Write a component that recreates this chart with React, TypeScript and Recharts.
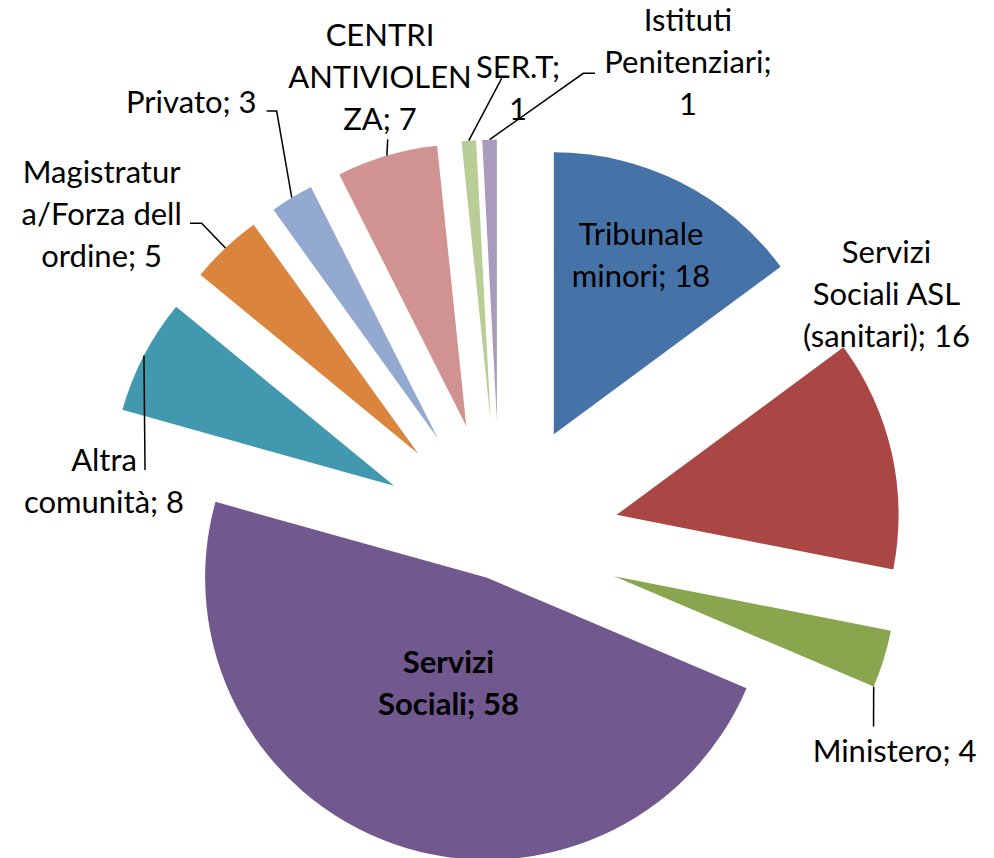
import React from 'react';
import { PieChart, Pie, Sector } from 'recharts';

// ---- data ----
const CATEGORIES = [
  'Tribunale minori',
  'Servizi Sociali ASL (sanitari)',
  'Ministero',
  'Servizi Sociali',
  'Altra comunità',
  'Magistratura/Forza dell ordine',
  'Privato',
  'CENTRI ANTIVIOLENZA',
  'SER.T',
  'Istituti Penitenziari',
];
const VALUES = [18, 16, 4, 58, 8, 5, 3, 7, 1, 1];

// ---- styles / layout ----
const COLORS = ['#4572A7', '#AA4643', '#89A54E', '#71588F', '#4198AF', '#DB843D', '#93A9CF', '#D19392', '#B9CD96', '#A99BBD'];

type Leader = { t: number; pts: number[][] } | null;
type SliceStyle = { explode: number; lx: number; ly: number; breaks: number[]; bold?: boolean; leader: Leader };

const SLICE_STYLE: SliceStyle[] = [
  { explode: 119.5, lx: -39.8, ly: 72.5, breaks: [10], leader: null },
  { explode: 119.5, lx: -5.3, ly: -158.7, breaks: [8, 20], leader: null },
  { explode: 119.5, lx: 10.8, ly: 91.5, breaks: [], leader: { t: 1, pts: [[-21, -24]] } },
  { explode: 39, lx: 54.8, ly: -161.1, breaks: [8], bold: true, leader: null },
  { explode: 119.5, lx: -39.9, ly: 125.9, breaks: [6], leader: { t: 0.5, pts: [[41, -11.4]] } },
  { explode: 119.5, lx: -123.8, ly: -34.5, breaks: [11, 24], leader: { t: 0.5, pts: [[100, 9.8], [88.3, 9.8]] } },
  { explode: 119.5, lx: -100.5, ly: -95.4, breaks: [], leader: { t: 0.5, pts: [[85.4, 8.7], [75.4, 8.7]] } },
  { explode: 119.5, lx: -6.9, ly: -78.7, breaks: [7, 17], leader: { t: 0.5, pts: [[7.7, 62.3]] } },
  { explode: 119.5, lx: 49.2, ly: -52.9, breaks: [7], leader: { t: 0.5, pts: [[-16.3, -9.5]] } },
  { explode: 119.5, lx: 198.4, ly: -77.3, breaks: [9, 23], leader: { t: 0.5, pts: [[-104.7, 11], [-93, 11]] } },
];

const FONT = 'Lato, "Open Sans", sans-serif';
const FONT_SIZE = 31;
const LINE_H = 42;
const CAP_HALF = 11;
const RAD = Math.PI / 180;

const chartData = CATEGORIES.map((name, i) => ({ name, value: VALUES[i] }));

function wrap(text: string, breaks: number[]): string[] {
  const out: string[] = [];
  let prev = 0;
  for (const b of breaks) {
    out.push(text.slice(prev, b).trim());
    prev = b;
  }
  out.push(text.slice(prev).trim());
  return out;
}

const renderSlice = (props: any) => {
  const { cx, cy, outerRadius, startAngle, endAngle, index } = props;
  const s = SLICE_STYLE[index];
  const mid = (startAngle + endAngle) / 2;
  const ax = cx + s.explode * Math.cos(mid * RAD);
  const ay = cy - s.explode * Math.sin(mid * RAD);
  const ox = ax + outerRadius * Math.cos(mid * RAD);
  const oy = ay - outerRadius * Math.sin(mid * RAD);
  const lx = ox + s.lx;
  const ly = oy + s.ly;
  const lines = wrap(`${CATEGORIES[index]}; ${VALUES[index]}`, s.breaks);
  const n = lines.length;

  let leaderPath: string | null = null;
  if (s.leader) {
    const a = startAngle + s.leader.t * (endAngle - startAngle);
    const sx = ax + outerRadius * Math.cos(a * RAD);
    const sy = ay - outerRadius * Math.sin(a * RAD);
    leaderPath = `M${sx},${sy}` + s.leader.pts.map((p) => ` L${lx + p[0]},${ly + p[1]}`).join('');
  }

  return (
    <g key={`slice-${index}`}>
      <Sector
        cx={ax}
        cy={ay}
        innerRadius={0}
        outerRadius={outerRadius}
        startAngle={startAngle}
        endAngle={endAngle}
        fill={COLORS[index]}
        stroke="none"
      />
      {leaderPath && <path d={leaderPath} stroke="#000" strokeWidth={1.5} fill="none" />}
      <text
        textAnchor="middle"
        fontFamily={FONT}
        fontSize={FONT_SIZE}
        fontWeight={s.bold ? 700 : 400}
        fill="#000"
      >
        {lines.map((line, i) => (
          <tspan key={i} x={lx} y={ly + (i - (n - 1) / 2) * LINE_H + CAP_HALF}>
            {line}
          </tspan>
        ))}
      </text>
    </g>
  );
};

export default function App() {
  return (
    <div style={{ position: 'absolute', left: 0, top: 0, width: 994, height: 858, background: '#fff' }}>
      <PieChart width={994} height={858} margin={{ top: 0, right: 0, bottom: 0, left: 0 }}>
        <Pie
          data={chartData}
          dataKey="value"
          nameKey="name"
          cx={500}
          cy={541}
          innerRadius={0}
          outerRadius={282}
          startAngle={90}
          endAngle={-270}
          fill="none"
          stroke="none"
          labelLine={false}
          label={renderSlice}
          isAnimationActive={false}
        />
      </PieChart>
    </div>
  );
}
